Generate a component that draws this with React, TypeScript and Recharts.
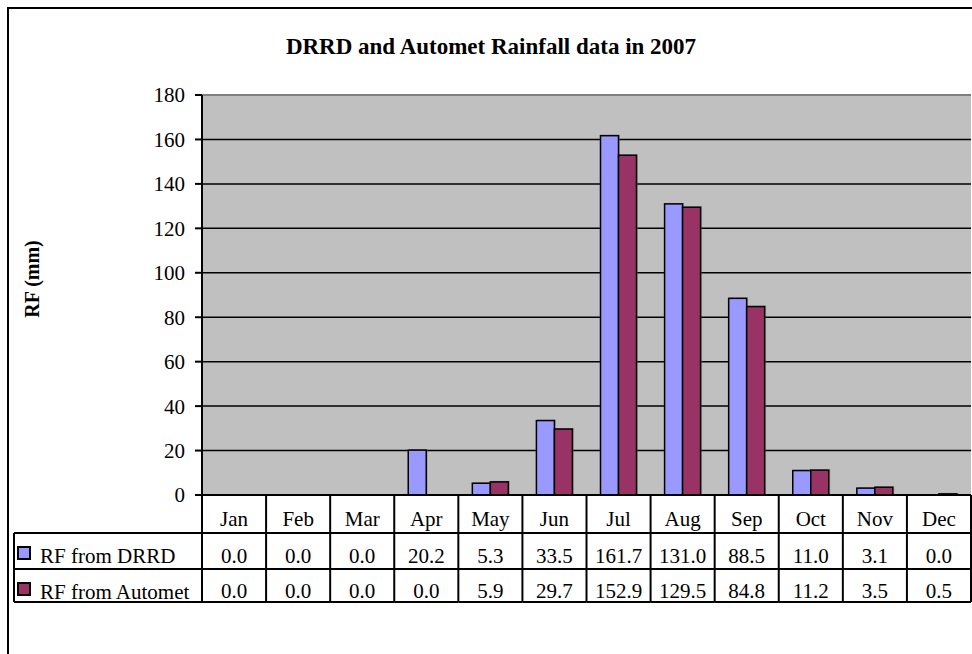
import React from 'react';
import { BarChart, Bar, XAxis, YAxis, CartesianGrid, ReferenceLine } from 'recharts';

const months = ['Jan', 'Feb', 'Mar', 'Apr', 'May', 'Jun', 'Jul', 'Aug', 'Sep', 'Oct', 'Nov', 'Dec'];
const drrdValues = [0.0, 0.0, 0.0, 20.2, 5.3, 33.5, 161.7, 131.0, 88.5, 11.0, 3.1, 0.0];
const autometValues = [0.0, 0.0, 0.0, 0.0, 5.9, 29.7, 152.9, 129.5, 84.8, 11.2, 3.5, 0.5];
const seriesKeys = ['drrd', 'automet'];
const seriesNames = ['RF from DRRD', 'RF from Automet'];
const seriesColors = ['#9999FF', '#993366'];
const yTicks = [0, 20, 40, 60, 80, 100, 120, 140, 160, 180];
const chartTitle = 'DRRD and Automet Rainfall data in 2007';
const yAxisTitle = 'RF (mm)';

const seriesValues = [drrdValues, autometValues];
const data = months.map((m, i) => ({ month: m, drrd: drrdValues[i], automet: autometValues[i] }));

const FONT = '"Liberation Serif", "Times New Roman", serif';
const W = 972;
const H = 654;
const PLOT_LEFT = 202;
const PLOT_RIGHT = 971;
const PLOT_TOP = 95;
const PLOT_BOTTOM = 495;
const BAND = (PLOT_RIGHT - PLOT_LEFT) / months.length;
const LEGEND_LEFT = 14;
const ROW1 = 38;
const ROW2 = 74;
const ROW3 = 107;
const TXT = 21;

const lineStyle = { stroke: '#000', strokeWidth: 2 };

function ShadowBar(props: any) {
  const { x, y, width, height, fill } = props;
  if (!height || height <= 0 || !width) return null;
  return (
    <g>
      <rect x={x + 1.5} y={y - 1} width={width} height={height + 1} fill="#7a7a7a" opacity={0.45} />
      <rect x={x} y={y} width={width} height={height} fill={fill} stroke="#000" strokeWidth={1.5} />
    </g>
  );
}

function TableTick(props: any) {
  const { x, y, payload, index } = props;
  const top = y;
  const l = x - BAND / 2;
  const r = x + BAND / 2;
  return (
    <g>
      {index === 0 && (
        <g>
          <line x1={l} x2={l} y1={top} y2={top + ROW3} {...lineStyle} />
          <line x1={LEGEND_LEFT} x2={l} y1={top + ROW1} y2={top + ROW1} {...lineStyle} />
          <line x1={LEGEND_LEFT} x2={l} y1={top + ROW2} y2={top + ROW2} {...lineStyle} />
          <line x1={LEGEND_LEFT} x2={l} y1={top + ROW3} y2={top + ROW3} {...lineStyle} />
          <line x1={LEGEND_LEFT} x2={LEGEND_LEFT} y1={top + ROW1} y2={top + ROW3} {...lineStyle} />
          {seriesNames.map((name, si) => {
            const rowTop = si === 0 ? ROW1 : ROW2;
            return (
              <g key={name}>
                <rect x={LEGEND_LEFT + 4} y={top + rowTop + 14} width={12} height={12}
                  fill={seriesColors[si]} stroke="#000" strokeWidth={2} />
                <text x={LEGEND_LEFT + 26} y={top + rowTop + 30} fontFamily={FONT} fontSize={TXT} fill="#000">
                  {name}
                </text>
              </g>
            );
          })}
        </g>
      )}
      <line x1={r} x2={r} y1={top} y2={top + ROW3} {...lineStyle} />
      <line x1={l} x2={r} y1={top + ROW1} y2={top + ROW1} {...lineStyle} />
      <line x1={l} x2={r} y1={top + ROW2} y2={top + ROW2} {...lineStyle} />
      <line x1={l} x2={r} y1={top + ROW3} y2={top + ROW3} {...lineStyle} />
      <text x={x} y={top + 31} textAnchor="middle" fontFamily={FONT} fontSize={TXT} fill="#000">
        {payload.value}
      </text>
      {seriesValues.map((vals, si) => (
        <text key={si} x={x} y={top + (si === 0 ? 68 : 103)} textAnchor="middle"
          fontFamily={FONT} fontSize={TXT} fill="#000">
          {vals[index].toFixed(1)}
        </text>
      ))}
    </g>
  );
}

function YTitle() {
  const cx = 32;
  const cy = 279;
  return (
    <text x={cx} y={cy} transform={`rotate(-90 ${cx} ${cy})`} textAnchor="middle"
      dominantBaseline="central" fontFamily={FONT} fontWeight="bold" fontSize={20} fill="#000">
      {yAxisTitle}
    </text>
  );
}

export default function App() {
  return (
    <div style={{ position: 'absolute', left: 0, top: 0, width: W, height: H, overflow: 'hidden', background: '#fff' }}>
      <div style={{ position: 'absolute', left: 7, top: 7, width: 1100, height: 800, border: '2px solid #000', boxSizing: 'border-box' }} />
      <div style={{
        position: 'absolute', left: 0, top: 35, width: 982, textAlign: 'center',
        fontFamily: FONT, fontWeight: 'bold', fontSize: 23, lineHeight: '23px', color: '#000',
      }}>
        {chartTitle}
      </div>
      <div style={{ position: 'absolute', left: 0, top: 0 }}>
        <BarChart
          width={W}
          height={H}
          data={data}
          margin={{ top: PLOT_TOP, right: W - PLOT_RIGHT, left: PLOT_LEFT - 60, bottom: H - PLOT_BOTTOM - 110 }}
          barCategoryGap={14}
          barGap={0}
        >
          <CartesianGrid vertical={false} stroke="#000" strokeWidth={1.5} fill="#C0C0C0" fillOpacity={1} />
          <ReferenceLine y={180} stroke="#808080" strokeWidth={2} />
          <XAxis
            dataKey="month"
            interval={0}
            height={110}
            tickLine={false}
            tickSize={0}
            tickMargin={0}
            axisLine={{ stroke: '#000', strokeWidth: 2 }}
            tick={<TableTick />}
          />
          <YAxis
            width={60}
            domain={[0, 180]}
            ticks={yTicks}
            interval={0}
            tickSize={7}
            tickMargin={10}
            axisLine={{ stroke: '#000', strokeWidth: 2 }}
            tickLine={{ stroke: '#000', strokeWidth: 2 }}
            tick={{ fontFamily: FONT, fontSize: TXT, fill: '#000' }}
            label={{ content: () => <YTitle /> }}
          />
          {seriesKeys.map((k, si) => (
            <Bar key={k} dataKey={k} name={seriesNames[si]} fill={seriesColors[si]}
              shape={<ShadowBar />} isAnimationActive={false} />
          ))}
        </BarChart>
      </div>
    </div>
  );
}
